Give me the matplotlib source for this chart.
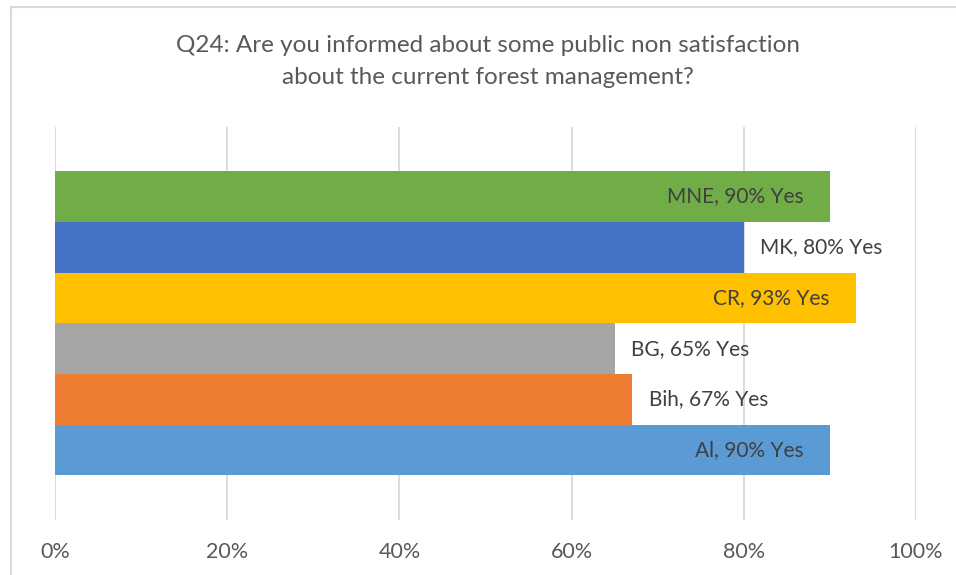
import matplotlib.pyplot as plt
from matplotlib.patches import Rectangle

plt.rcParams['font.family'] = ['Lato', 'DejaVu Sans']

# bottom-to-top order, as drawn
countries = ["Al", "Bih", "BG", "CR", "MK", "MNE"]
yes_pct = [90, 67, 65, 93, 80, 90]
colors = ["#5B9BD5", "#ED7D31", "#A5A5A5", "#FFC000", "#4472C4", "#70AD47"]
inside = [True, False, False, True, False, True]
ticks = [0, 20, 40, 60, 80, 100]
title_lines = ["Q24: Are you informed about some public non satisfaction",
               "about the current forest management?"]

fig = plt.figure(figsize=(9.56, 5.75), dpi=100)
ax = fig.add_axes([55 / 956, 55 / 575, 861 / 956, 393 / 575])

# light chart frame
fig.patches.append(Rectangle((11 / 956, -0.1), 1.2, 1.1 - 7 / 575,
                             transform=fig.transFigure, fill=False,
                             edgecolor="#D9D9D9", linewidth=1.5))

pos = list(range(len(countries)))
ax.barh(pos, yes_pct, height=1.0, color=colors, zorder=2)

for y, c, v, ins in zip(pos, countries, yes_pct, inside):
    lbl = f"{c}, {v}% Yes"
    if ins:
        ax.annotate(lbl, (v, y), xytext=(-19, 0), textcoords="offset points",
                    ha="right", va="center", fontsize=15, color="#404040", zorder=3)
    else:
        ax.annotate(lbl, (v, y), xytext=(12, 0), textcoords="offset points",
                    ha="left", va="center", fontsize=15, color="#404040", zorder=3)

ax.set_xlim(0, 100)
ax.set_ylim(-0.5 - 0.88, 5.5 + 0.87)
ax.set_xticks(ticks)
ax.set_xticklabels([f"{t}%" for t in ticks])
ax.set_yticks([])
ax.tick_params(axis="x", length=0, pad=16, labelsize=15.5, labelcolor="#595959")
ax.grid(axis="x", color="#D9D9D9", linewidth=1.3, zorder=0)
for s in ax.spines.values():
    s.set_visible(False)

# two-line title, each line placed on its own
for ty, line in zip([1 - 45 / 575, 1 - 78 / 575], title_lines):
    fig.text(0.51, ty, line, ha="center", va="center", fontsize=17.5,
             color="#595959")

fig.savefig("out.png", dpi=100)
